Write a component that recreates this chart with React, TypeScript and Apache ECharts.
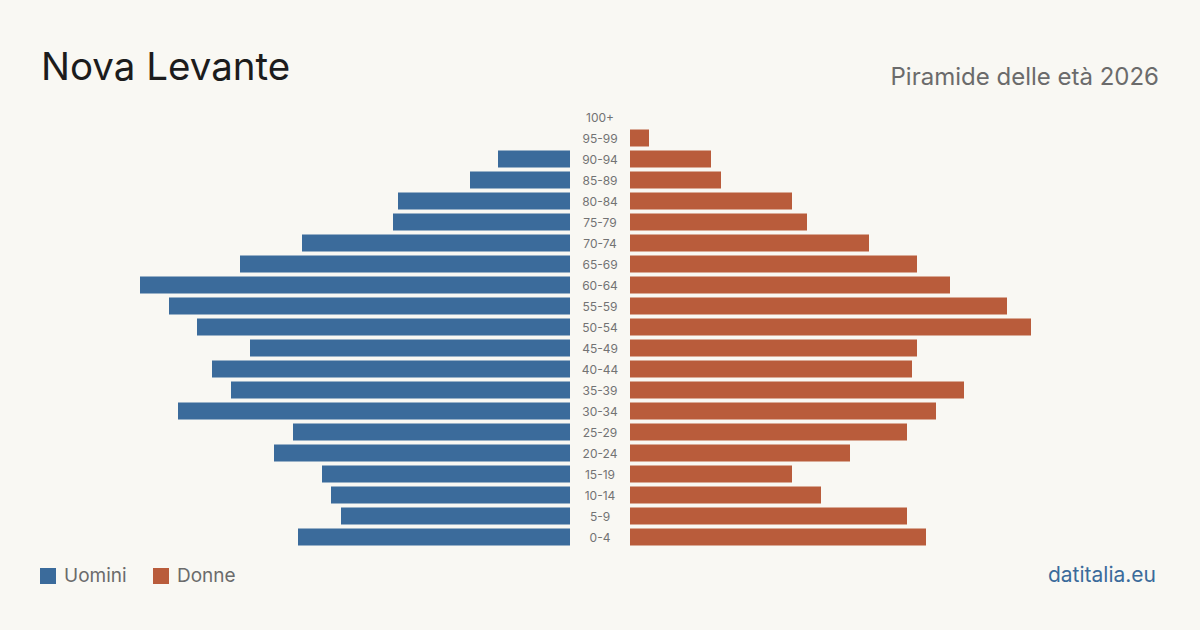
import React, { useEffect, useRef } from "react";
import * as echarts from "echarts";

const ageGroups = ["0-4", "5-9", "10-14", "15-19", "20-24", "25-29", "30-34", "35-39", "40-44", "45-49", "50-54", "55-59", "60-64", "65-69", "70-74", "75-79", "80-84", "85-89", "90-94", "95-99", "100+"];
const men = [272, 229, 239, 248, 296, 277, 392, 339, 358, 320, 373, 401, 430, 330, 268, 177, 172, 100, 72, 0, 0];
const women = [296, 277, 191, 162, 220, 277, 306, 334, 282, 287, 401, 377, 320, 287, 239, 177, 162, 91, 81, 19, 0];
const axisMax = 430;

const BLUE = "#3b6b9b";
const ORANGE = "#b95c3b";
const BG = "#f9f8f3";
const FONT = "Inter, 'Noto Sans', sans-serif";

export default function App() {
  const ref = useRef<HTMLDivElement>(null);
  useEffect(() => {
    if (!ref.current) return;
    const chart = echarts.init(ref.current, null, { renderer: "svg" });
    const top = 106.5;
    const height = 441;
    chart.setOption({
      animation: false,
      backgroundColor: BG,
      textStyle: { fontFamily: FONT },
      grid: [
        { left: 140, width: 430, top, height },
        { left: 630, width: 430, top, height },
      ],
      xAxis: [
        { gridIndex: 0, type: "value", min: 0, max: axisMax, inverse: true, show: false },
        { gridIndex: 1, type: "value", min: 0, max: axisMax, show: false },
      ],
      yAxis: [
        { gridIndex: 0, type: "category", data: ageGroups, show: false },
        {
          gridIndex: 1, type: "category", data: ageGroups,
          axisLine: { show: false }, axisTick: { show: false }, splitLine: { show: false },
          axisLabel: { align: "center", margin: 30, color: "#737373", fontSize: 12, fontFamily: FONT },
        },
      ],
      series: [
        { name: "Uomini", type: "bar", xAxisIndex: 0, yAxisIndex: 0, data: men, barWidth: 17, itemStyle: { color: BLUE } },
        { name: "Donne", type: "bar", xAxisIndex: 1, yAxisIndex: 1, data: women, barWidth: 17, itemStyle: { color: ORANGE } },
      ],
      graphic: [
        { type: "text", left: 41, top: 46, style: { text: "Nova Levante", fontSize: 38.5, fill: "#1c1c1c", fontFamily: FONT } },
        { type: "text", right: 41, top: 64, style: { text: "Piramide delle età 2026", fontSize: 24, fill: "#6b6b6b", fontFamily: FONT } },
        { type: "rect", left: 40, top: 568, shape: { width: 16, height: 16 }, style: { fill: BLUE } },
        { type: "text", left: 64, top: 566, style: { text: "Uomini", fontSize: 19, fill: "#6b6b6b", fontFamily: FONT } },
        { type: "rect", left: 153, top: 568, shape: { width: 16, height: 16 }, style: { fill: ORANGE } },
        { type: "text", left: 177, top: 566, style: { text: "Donne", fontSize: 19, fill: "#6b6b6b", fontFamily: FONT } },
        { type: "text", right: 44, top: 564, style: { text: "datitalia.eu", fontSize: 21, fill: "#3b6b9b", fontFamily: FONT } },
      ],
    });
    return () => chart.dispose();
  }, []);
  return <div ref={ref} style={{ position: "fixed", left: 0, top: 0, width: 1200, height: 630, background: BG }} />;
}
